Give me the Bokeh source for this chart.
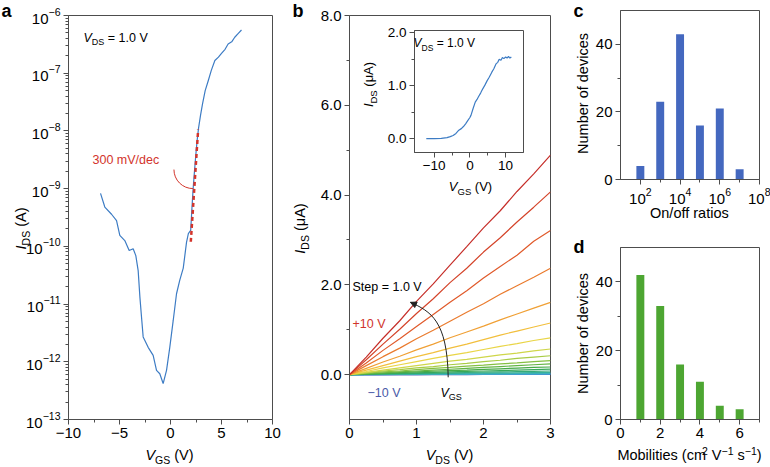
import math
from bokeh.plotting import figure
from bokeh.models import (Label, FixedTicker, PrintfTickFormatter, LogTickFormatter,
                          Arrow, NormalHead)
from bokeh.layouts import row, column
from bokeh.embed import file_html
from bokeh.resources import INLINE

FONT = "Liberation Sans"
AX = "#4d4d4d"
RED = "#d3342b"
BLUE = "#3d7cc4"

# ---------------- data ----------------
# panel a: transfer curve (log scale)
vgs_a = [-6.86, -6.44, -5.78, -5.29, -4.97, -4.48, -4.05, -3.66, -3.40, -3.17, -3.00, -2.84,
         -2.68, -2.19, -1.70, -1.37, -1.05, -0.72, -0.39, -0.07, 0.26, 0.59, 0.91, 1.25,
         1.57, 1.75, 1.98, 2.10, 2.22, 2.35, 2.48, 2.60, 2.75, 2.95, 3.14, 3.40, 3.70,
         4.00, 4.35, 4.70, 5.00, 5.35, 5.65, 6.00, 6.30, 6.65, 6.96]
ids_a = [8.3e-10, 4.8e-10, 3.6e-10, 2.8e-10, 1.55e-10, 1.26e-10, 8.5e-11, 9.1e-11, 6.9e-11,
         3.8e-11, 1.32e-11, 5.9e-12, 2.7e-12, 1.78e-12, 1.29e-12, 7.1e-13, 6.2e-13, 4.2e-13,
         7.1e-13, 1.78e-12, 5.1e-12, 1.51e-11, 2.6e-11, 4.2e-11, 1.17e-10, 1.66e-10, 1.9e-10,
         4.5e-10, 1.0e-9, 2.0e-9, 3.8e-9, 6.6e-9, 1.12e-8, 1.9e-8, 2.95e-8, 5.0e-8, 7.4e-8,
         1.12e-7, 1.66e-7, 1.9e-7, 2.2e-7, 2.6e-7, 3.2e-7, 3.5e-7, 4.2e-7, 4.9e-7, 5.6e-7]
ss_x = [1.99, 2.71]
ss_y = [1.2e-10, 1.05e-8]

# panel b: output curves, VGS from -10 V to +10 V
vds_b = [0, 0.25, 0.5, 0.75, 1.0, 1.25, 1.5, 1.75, 2.0, 2.25, 2.5, 2.75, 3.0]
vgs_b = list(range(-10, 11))
ids_b = [
    [0, 0.000, 0.000, 0.001, 0.001, 0.001, 0.001, 0.001, 0.002, 0.002, 0.002, 0.002, 0.002],
    [0, 0.000, 0.001, 0.001, 0.001, 0.002, 0.002, 0.003, 0.003, 0.003, 0.004, 0.004, 0.004],
    [0, 0.001, 0.001, 0.002, 0.003, 0.003, 0.004, 0.005, 0.005, 0.006, 0.007, 0.007, 0.008],
    [0, 0.001, 0.002, 0.003, 0.004, 0.005, 0.006, 0.007, 0.008, 0.009, 0.010, 0.011, 0.012],
    [0, 0.002, 0.003, 0.005, 0.007, 0.008, 0.010, 0.012, 0.013, 0.015, 0.017, 0.018, 0.020],
    [0, 0.003, 0.005, 0.008, 0.010, 0.013, 0.015, 0.018, 0.020, 0.023, 0.025, 0.028, 0.030],
    [0, 0.004, 0.009, 0.013, 0.017, 0.021, 0.025, 0.030, 0.034, 0.038, 0.042, 0.046, 0.050],
    [0, 0.007, 0.014, 0.020, 0.027, 0.034, 0.040, 0.047, 0.054, 0.060, 0.067, 0.074, 0.080],
    [0, 0.010, 0.020, 0.030, 0.040, 0.050, 0.060, 0.070, 0.080, 0.090, 0.100, 0.110, 0.120],
    [0, 0.015, 0.030, 0.045, 0.060, 0.075, 0.090, 0.100, 0.115, 0.130, 0.145, 0.160, 0.170],
    [0, 0.02, 0.04, 0.06, 0.08, 0.10, 0.12, 0.14, 0.16, 0.18, 0.20, 0.22, 0.24],
    [0, 0.03, 0.06, 0.08, 0.11, 0.14, 0.16, 0.19, 0.21, 0.24, 0.26, 0.29, 0.31],
    [0, 0.04, 0.08, 0.11, 0.15, 0.18, 0.22, 0.25, 0.29, 0.32, 0.36, 0.39, 0.42],
    [0, 0.05, 0.10, 0.15, 0.20, 0.25, 0.30, 0.34, 0.39, 0.44, 0.48, 0.53, 0.57],
    [0, 0.07, 0.15, 0.22, 0.29, 0.36, 0.43, 0.49, 0.56, 0.63, 0.69, 0.76, 0.82],
    [0, 0.10, 0.20, 0.30, 0.40, 0.49, 0.59, 0.68, 0.78, 0.88, 0.97, 1.06, 1.15],
    [0, 0.14, 0.28, 0.41, 0.55, 0.68, 0.82, 0.95, 1.08, 1.22, 1.35, 1.48, 1.61],
    [0, 0.20, 0.40, 0.59, 0.80, 0.99, 1.19, 1.39, 1.58, 1.79, 1.98, 2.17, 2.37],
    [0, 0.26, 0.54, 0.80, 1.07, 1.34, 1.61, 1.87, 2.15, 2.41, 2.66, 2.97, 3.21],
    [0, 0.33, 0.68, 1.01, 1.36, 1.69, 2.05, 2.37, 2.73, 3.05, 3.40, 3.73, 4.07],
    [0, 0.39, 0.81, 1.20, 1.63, 2.02, 2.44, 2.85, 3.27, 3.65, 4.08, 4.47, 4.89],
]
colors_b = ["#3a4fa5", "#3c63ba", "#3f7ccb", "#4194d4", "#40a9cf", "#3cb3ba", "#37b09c",
            "#35ab7a", "#38a85a", "#46aa48", "#62b444", "#85c042", "#a9cc45", "#cfd64a",
            "#e9d547", "#f2bf3d", "#f0a035", "#ea7b2e", "#e05a2b", "#d4442a", "#c62f2a"]

# inset: transfer curve (linear)
vgs_in = [-12.2, -10, -8, -6.4, -5.5, -4.7, -3.9, -3.1, -2.4, -1.8, -1.2, -0.6, 0, 0.3, 0.9,
          1.5, 2.0, 2.4, 3.0, 3.6, 4.2, 4.8, 5.4, 6.1, 6.7, 7.3, 7.8, 8.2, 8.7, 9.1, 9.5,
          10.0, 10.4, 10.8, 11.2, 11.6]
ids_in = [0.0, 0.0, 0.005, 0.02, 0.04, 0.06, 0.10, 0.16, 0.19, 0.23, 0.28, 0.34, 0.40, 0.44,
          0.57, 0.69, 0.74, 0.79, 0.86, 0.94, 1.01, 1.09, 1.16, 1.25, 1.32, 1.41, 1.44, 1.50,
          1.48, 1.53, 1.51, 1.54, 1.52, 1.55, 1.52, 1.54]

# panel c: on/off ratio histogram
ratio_c = [1e2, 1e3, 1e4, 1e5, 1e6, 1e7]
count_c = [4, 23, 43, 16, 21, 3]
# panel d: mobility histogram
mob_d = [1, 2, 3, 4, 5, 6]
count_d = [42, 33, 16, 11, 4, 3]

# ---------------- text helpers ----------------
CW = {' ': 278, '(': 333, ')': 333, '=': 584, '.': 278, '/': 278, '\u2212': 584, '-': 333,
      '+': 584, 'μ': 576, 'A': 667, 'D': 722, 'G': 778, 'I': 278, 'N': 722, 'O': 778,
      'S': 667, 'V': 667, 'a': 556, 'b': 556, 'c': 500, 'd': 556, 'e': 556, 'f': 278,
      'i': 222, 'l': 222, 'm': 833, 'n': 556, 'o': 556, 'p': 556, 'r': 333, 's': 500,
      't': 278, 'u': 556, 'v': 500}
MID = 0.35  # em height of the "middle" anchor above the baseline

W, H = 770, 467
ov = figure(width=W, height=H, min_border=0, toolbar_location=None, output_backend="svg",
            title=None, x_range=(0, W), y_range=(0, H), x_axis_location=None,
            y_axis_location=None)
ov.xgrid.visible = False
ov.ygrid.visible = False
ov.outline_line_color = None
ov.background_fill_alpha = 0
ov.border_fill_alpha = 0


def tw(s, size):
    return sum(CW.get(ch, 556) for ch in s) * size / 1000.0


def rich(X, Y, parts, angle=0.0, color="black", center=False):
    """Composite text on the overlay; X, Y = page coords of baseline start (or centre)."""
    total = sum(tw(t, sz) for t, sz, st, sh in parts)
    adv = -total / 2 if center else 0.0
    for t, sz, st, sh in parts:
        lead = len(t) - len(t.lstrip(" "))
        adv += tw(" " * lead, sz)
        t = t.lstrip(" ")
        up = sh + MID * sz
        if angle == 0:
            xo, yo = adv, up
        else:
            xo, yo = -up, adv
        ov.add_layout(Label(x=X, y=H - Y, x_units="screen", y_units="screen",
                            x_offset=xo, y_offset=yo, text=t, text_font=FONT,
                            text_font_size=f"{sz}px", text_font_style=st, text_color=color,
                            angle=angle, text_align="left", text_baseline="middle"))
        adv += tw(t, sz)


def panel_label(X, Y, t):
    rich(X, Y, [(t, 18, "bold", 0)])


def mkfig(w, h, l, r, t, b, **kw):
    p = figure(width=w, height=h, min_border_left=l, min_border_right=r, min_border_top=t,
               min_border_bottom=b, toolbar_location=None, output_backend="svg", title=None,
               **kw)
    p.xgrid.visible = False
    p.ygrid.visible = False
    p.outline_line_color = AX
    p.outline_line_width = 1
    p.background_fill_color = "white"
    p.border_fill_color = "white"
    for ax in (p.xaxis[0], p.yaxis[0]):
        ax.axis_line_color = AX
        ax.major_tick_line_color = AX
        ax.minor_tick_line_color = AX
        ax.major_tick_out = 5
        ax.major_tick_in = 0
        ax.minor_tick_out = 3
        ax.minor_tick_in = 0
        ax.major_label_text_font = FONT
        ax.major_label_text_font_size = "15px"
        ax.major_label_text_color = "black"
        ax.major_label_standoff = 3
    return p


PI2 = math.pi / 2
LAB = 14.5
SUB = 10.5
ANN = 12.5
ASUB = 9

# ---------------- panel a ----------------
pa = mkfig(290, 467, 68, 18, 15, 48, x_range=(-10, 10), y_range=(1e-13, 1e-6),
           y_axis_type="log")
pa.xaxis.ticker = FixedTicker(ticks=[-10, -5, 0, 5, 10], minor_ticks=[-7.5, -2.5, 2.5, 7.5])
pa.xaxis.major_label_overrides = {-10: "\u221210", -5: "\u22125"}
pa.yaxis.ticker = FixedTicker(ticks=[10.0 ** e for e in range(-13, -5)],
                              minor_ticks=[m * 10.0 ** e for e in range(-13, -6) for m in range(2, 10)])
pa.yaxis.formatter = LogTickFormatter()
pa.line(vgs_a, ids_a, line_color=BLUE, line_width=1.2)
pa.line(ss_x, ss_y, line_color=RED, line_width=2.5, line_dash="4 3")
pa.arc(x=[2.2], y=[2.14e-9], radius=19, radius_units="screen", start_angle=math.pi,
       end_angle=1.5 * math.pi, direction="anticlock", line_color=RED, line_width=1)
panel_label(1, 17, "a")
rich(83, 42, [("V", ANN, "italic", 0), ("DS", ASUB, "normal", -3), (" = 1.0 V", ANN, "normal", 0)])
rich(92, 164, [("300 mV/dec", ANN, "normal", 0)], color=RED)
rich(26, 228, [("I", LAB, "italic", 0), ("DS", SUB, "normal", -3.5), (" (A)", LAB, "normal", 0)],
     angle=PI2, center=True)
rich(169, 460, [("V", LAB, "italic", 0), ("GS", SUB, "normal", -3.5), (" (V)", LAB, "normal", 0)],
     center=True)

# ---------------- panel b ----------------
pb = mkfig(270, 467, 59, 10, 15, 48, x_range=(0, 3), y_range=(-1, 8))
pb.xaxis.ticker = FixedTicker(ticks=[0, 1, 2, 3], minor_ticks=[0.5, 1.5, 2.5])
pb.yaxis.ticker = FixedTicker(ticks=[0, 2, 4, 6, 8], minor_ticks=[1, 3, 5, 7])
pb.yaxis.formatter = PrintfTickFormatter(format="%.1f")
pb.multi_line([vds_b] * len(ids_b), ids_b, line_color=colors_b, line_width=1.2)
# curved arrow (annotation)
ARC_B = dict(x0=1.473, y0=-0.06, x1=0.91, y1=1.61, cx0=1.46, cy0=1.2, cx1=1.21, cy1=1.41)
pb.bezier(x0=[ARC_B["x0"]], y0=[ARC_B["y0"]], x1=[ARC_B["x1"]], y1=[ARC_B["y1"]],
          cx0=[ARC_B["cx0"]], cy0=[ARC_B["cy0"]], cx1=[ARC_B["cx1"]], cy1=[ARC_B["cy1"]],
          line_color="#222222", line_width=1)
pb.add_layout(Arrow(end=NormalHead(size=6, fill_color="#222222", line_color="#222222"),
                    x_start=1.0, y_start=1.55, x_end=0.91, y_end=1.61, line_width=1,
                    line_color="#222222"))
panel_label(292, 17, "b")
rich(305, 228, [("I", LAB, "italic", 0), ("DS", SUB, "normal", -3.5), (" (μA)", LAB, "normal", 0)],
     angle=PI2, center=True)
rich(449, 460, [("V", LAB, "italic", 0), ("DS", SUB, "normal", -3.5), (" (V)", LAB, "normal", 0)],
     center=True)
rich(352, 291, [("Step = 1.0 V", ANN, "normal", 0)])
rich(352, 328, [("+10 V", ANN, "normal", 0)], color="#d0342c")
rich(367, 397, [("\u221210 V", ANN, "normal", 0)], color="#4a5aa8")
rich(440, 397, [("V", ANN, "italic", 0), ("GS", ASUB, "normal", -3)])

# ---------------- inset ----------------
pi = mkfig(178, 174, 52, 4, 10, 42, x_range=(-15.5, 15), y_range=(-0.26, 2.04))
pi.border_fill_alpha = 0
pi.xaxis.ticker = FixedTicker(ticks=[-10, 0, 10], minor_ticks=[-5, 5])
pi.xaxis.major_label_overrides = {-10: "\u221210"}
pi.yaxis.ticker = FixedTicker(ticks=[0, 1, 2], minor_ticks=[0.5, 1.5])
pi.yaxis.formatter = PrintfTickFormatter(format="%.1f")
for ax in (pi.xaxis[0], pi.yaxis[0]):
    ax.major_label_text_font_size = "13.5px"
pi.line(vgs_in, ids_in, line_color=BLUE, line_width=1.2)
rich(413, 47, [("V", 12, "italic", 0), ("DS", 8.5, "normal", -3), (" = 1.0 V", 12, "normal", 0)])
rich(373, 84, [("I", 13, "italic", 0), ("DS", 9.5, "normal", -3), (" (μA)", 13, "normal", 0)],
     angle=PI2, center=True)
rich(470, 191, [("V", 13, "italic", 0), ("GS", 9.5, "normal", -3), (" (V)", 13, "normal", 0)],
     center=True)
# inset sits on top of panel b: figure box at page x 355..533, y 20..194
pi.margin = (20 - 467, 0, 467 - 20 - 174, 355 - 290)

# ---------------- panel c ----------------
pc = mkfig(210, 230, 60, 11, 10, 51, x_range=(10, 1e8), y_range=(0, 50), x_axis_type="log")
pc.xaxis.ticker = FixedTicker(ticks=[1e2, 1e4, 1e6, 1e8], minor_ticks=[1e3, 1e5, 1e7])
pc.xaxis.formatter = LogTickFormatter()
pc.yaxis.ticker = FixedTicker(ticks=[0, 20, 40], minor_ticks=[10, 30])
pc.quad(left=[r * 10 ** -0.2 for r in ratio_c], right=[r * 10 ** 0.2 for r in ratio_c],
        bottom=0, top=count_c, fill_color="#4468bf", line_color=None)
panel_label(573, 17, "c")
rich(588, 93, [("Number of devices", LAB, "normal", 0)], angle=PI2, center=True)
rich(689, 218, [("On/off ratios", LAB, "normal", 0)], center=True)

# ---------------- panel d ----------------
pd = mkfig(210, 237, 60, 11, 17, 48, x_range=(0, 7), y_range=(0, 50))
pd.xaxis.ticker = FixedTicker(ticks=[0, 2, 4, 6], minor_ticks=[1, 3, 5, 7])
pd.yaxis.ticker = FixedTicker(ticks=[0, 20, 40], minor_ticks=[10, 30])
pd.vbar(x=mob_d, top=count_d, width=0.4, fill_color="#4da632", line_color=None)
panel_label(573, 253, "d")
rich(588, 333, [("Number of devices", LAB, "normal", 0)], angle=PI2, center=True)
rich(689, 460, [("Mobilities (cm", LAB, "normal", 0), ("2", SUB, "normal", 5.5),
                (" V", LAB, "normal", 0), ("\u22121", SUB, "normal", 5.5),
                (" s", LAB, "normal", 0), ("\u22121", SUB, "normal", 5.5),
                (")", LAB, "normal", 0)], center=True)

ov.margin = (-H, 0, 0, 0)
main = row(pa, column(pb, pi), column(pc, pd))
lay = column(main, ov)
open("out.html", "w").write(file_html(lay, INLINE))
